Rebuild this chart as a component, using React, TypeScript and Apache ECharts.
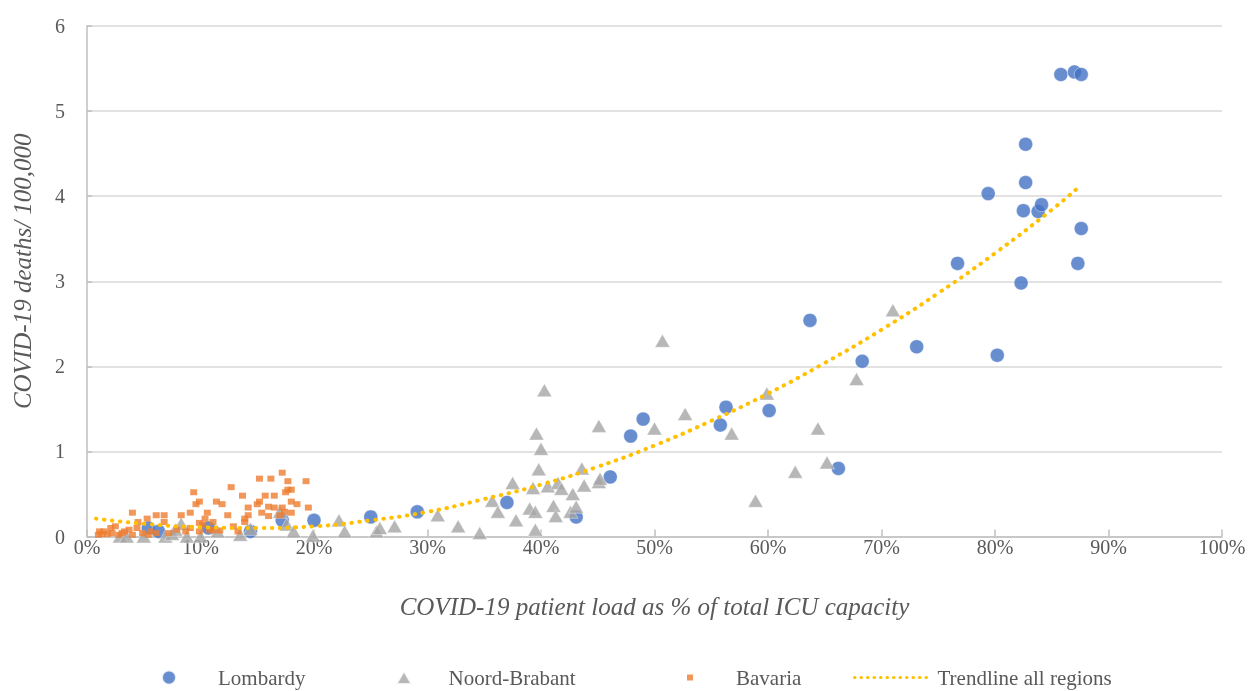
import React, { useEffect, useRef } from "react";
import * as echarts from "echarts";

// x: % of total ICU capacity, y: deaths per 100,000
const lombardy: number[][] = [
  [5.4, 0.1], [6.3, 0.06], [10.7, 0.1], [14.4, 0.06], [17.2, 0.19], [20.0, 0.19],
  [25.0, 0.23], [29.1, 0.29], [37.0, 0.4], [43.1, 0.23], [46.1, 0.7], [47.9, 1.18],
  [49.0, 1.38], [55.8, 1.31], [56.3, 1.52], [60.1, 1.48], [63.7, 2.54], [66.2, 0.8],
  [68.3, 2.06], [73.1, 2.23], [76.7, 3.21], [79.4, 4.03], [80.2, 2.13], [82.3, 2.98],
  [82.5, 3.83], [82.7, 4.16], [82.7, 4.61], [83.8, 3.82], [84.1, 3.9], [85.8, 5.43],
  [87.0, 5.46], [87.3, 3.21], [87.6, 3.62], [87.6, 5.43],
];

const noordBrabant: number[][] = [
  [2.9, 0], [3.5, 0], [5.0, 0], [6.9, 0], [7.5, 0.03], [7.8, 0.08], [8.3, 0.15],
  [8.8, 0], [10.0, 0], [11.5, 0.06], [13.5, 0.02], [14.4, 0.09], [17.0, 0.29],
  [17.6, 0.14], [18.2, 0.06], [19.9, 0.01], [22.2, 0.19], [22.7, 0.06], [25.5, 0.06],
  [25.8, 0.1], [27.1, 0.12], [30.9, 0.25], [32.7, 0.12], [34.6, 0.04], [35.7, 0.42],
  [36.2, 0.29], [37.5, 0.63], [37.8, 0.19], [39.0, 0.33], [39.3, 0.57], [39.5, 0.29],
  [39.5, 0.08], [39.6, 1.21], [39.8, 0.79], [40.0, 1.03], [40.3, 1.72], [40.6, 0.59],
  [41.1, 0.36], [41.3, 0.24], [41.5, 0.63], [41.8, 0.56], [42.6, 0.29], [42.8, 0.5],
  [43.1, 0.35], [43.6, 0.8], [43.8, 0.6], [45.1, 0.64], [45.2, 0.68], [45.1, 1.3],
  [50.0, 1.27], [50.7, 2.3], [52.7, 1.44], [56.8, 1.21], [58.9, 0.42], [59.9, 1.68],
  [62.4, 0.76], [64.4, 1.27], [65.2, 0.87], [67.8, 1.85], [71.0, 2.66],
];

const bavaria: number[][] = [
  [17.2, 0.75], [15.2, 0.68], [16.2, 0.68], [17.7, 0.65], [19.3, 0.65], [12.7, 0.58],
  [9.4, 0.52], [17.7, 0.55], [18.0, 0.55], [13.7, 0.48], [15.7, 0.48], [16.5, 0.48],
  [17.5, 0.52], [9.9, 0.41], [11.4, 0.41], [9.6, 0.38], [11.9, 0.38], [15.0, 0.38],
  [15.2, 0.41], [18.0, 0.41], [18.5, 0.38], [14.2, 0.34], [16.0, 0.35], [16.5, 0.34],
  [17.2, 0.34], [19.5, 0.34], [4.0, 0.28], [10.6, 0.28], [15.4, 0.28], [16.0, 0.24],
  [18.0, 0.28], [6.1, 0.25], [6.8, 0.25], [8.3, 0.25], [9.1, 0.28], [12.4, 0.25],
  [14.2, 0.25], [10.4, 0.21], [4.5, 0.17], [5.3, 0.21], [6.8, 0.17], [11.1, 0.17],
  [13.9, 0.21], [13.9, 0.17], [17.4, 0.29], [17.0, 0.25],
  [1.1, 0.06], [1.5, 0.06], [2.1, 0.1], [2.5, 0.12], [3.3, 0.06], [3.7, 0.08],
  [4.4, 0.1], [5.6, 0.06], [6.1, 0.04], [8.7, 0.06], [9.1, 0.1], [10.2, 0.14],
  [9.9, 0.16], [9.9, 0.06], [10.8, 0.08], [11.1, 0.07], [11.7, 0.07], [1.0, 0.02],
  [1.3, 0.03], [1.8, 0.03], [2.2, 0.04], [2.8, 0.02], [3.1, 0.04], [4.0, 0.02],
  [4.9, 0.04], [5.4, 0.02], [7.2, 0.04], [7.9, 0.08], [12.9, 0.12], [13.3, 0.06],
];

const trendline: number[][] = [
  [0.8, 0.21], [5, 0.15], [10, 0.11], [15, 0.1], [20, 0.12], [25, 0.19], [30, 0.29],
  [35, 0.44], [40, 0.61], [45, 0.82], [50, 1.07], [55, 1.36], [60, 1.68], [65, 2.04],
  [70, 2.43], [75, 2.86], [80, 3.33], [85, 3.84], [87.5, 4.12],
];

const seriesNames = ["Lombardy", "Noord-Brabant", "Bavaria", "Trendline all regions"];
const xAxisTitle = "COVID-19 patient load as % of total ICU capacity";
const yAxisTitle = "COVID-19 deaths/ 100,000";

const FONT = "'Liberation Serif', 'DejaVu Serif', serif";
const TEXT = "#595959";

export default function App() {
  const ref = useRef<HTMLDivElement>(null);
  useEffect(() => {
    const chart = echarts.init(ref.current!, null, { renderer: "svg" });
    const lt = (padLeft: number) => ({
      color: TEXT,
      fontSize: 21,
      fontFamily: FONT,
      padding: [0, 0, 0, padLeft],
    });
    const LEG_TOP = 667;
    chart.setOption({
      animation: false,
      textStyle: { fontFamily: FONT },
      grid: { left: 87, right: 33, top: 26, bottom: 154.5, containLabel: false },
      legend: [
        {
          data: [{ name: seriesNames[0], icon: "circle" }],
          left: 161, top: LEG_TOP, padding: 0, itemWidth: 14, itemHeight: 14,
          textStyle: lt(37), selectedMode: false,
        },
        {
          data: [{ name: seriesNames[1], icon: "triangle" }],
          left: 395.5, top: LEG_TOP, padding: 0, itemWidth: 15, itemHeight: 13,
          textStyle: lt(32), selectedMode: false,
        },
        {
          data: [{ name: seriesNames[2], icon: "rect" }],
          left: 687, top: LEG_TOP, padding: 0, itemWidth: 6, itemHeight: 6,
          textStyle: lt(38), selectedMode: false,
        },
        {
          data: [seriesNames[3]],
          left: 853, top: LEG_TOP, padding: 0, itemWidth: 78, itemHeight: 14,
          textStyle: lt(0), selectedMode: false,
          itemStyle: { opacity: 0 },
          lineStyle: { width: 3, type: [0.5, 6], cap: "round", color: "#FFC000" },
        },
      ],
      xAxis: {
        type: "value",
        min: 0,
        max: 100,
        interval: 10,
        name: xAxisTitle,
        nameLocation: "middle",
        nameGap: 57,
        nameTextStyle: { fontStyle: "italic", fontSize: 25, color: TEXT, fontFamily: FONT },
        axisLabel: { formatter: "{value}%", fontSize: 20, color: TEXT, margin: 0 },
        axisLine: { show: true, lineStyle: { color: "#BFBFBF", width: 1.5 } },
        axisTick: { show: true, inside: true, length: 7, lineStyle: { color: "#BFBFBF", width: 1.5 } },
        splitLine: { show: false },
      },
      yAxis: {
        type: "value",
        min: 0,
        max: 6,
        interval: 1,
        name: yAxisTitle,
        nameLocation: "middle",
        nameGap: 52,
        nameTextStyle: {
          fontStyle: "italic", fontSize: 25, color: TEXT, fontFamily: FONT,
          padding: [0, 0, 0, 20],
        },
        axisLabel: { fontSize: 20, color: TEXT, margin: 22 },
        axisLine: { show: true, lineStyle: { color: "#BFBFBF", width: 1.5 } },
        axisTick: { show: true, inside: true, length: 5, lineStyle: { color: "#BFBFBF", width: 1.5 } },
        splitLine: { show: true, lineStyle: { color: "#D9D9D9", width: 1.5 } },
      },
      series: [
        {
          name: seriesNames[0],
          type: "scatter",
          data: lombardy,
          symbol: "circle",
          symbolSize: 14,
          itemStyle: { color: "#4472C4", borderColor: "#ffffff", borderWidth: 0.5 },
          z: 2,
        },
        {
          name: seriesNames[1],
          type: "scatter",
          data: noordBrabant,
          symbol: "triangle",
          symbolSize: [15, 13],
          itemStyle: { color: "#A5A5A5", borderColor: "#ffffff", borderWidth: 0.5 },
          z: 3,
        },
        {
          name: seriesNames[2],
          type: "scatter",
          data: bavaria,
          symbol: "rect",
          symbolSize: [7, 6],
          itemStyle: { color: "#ED7D31" },
          z: 4,
        },
        {
          name: seriesNames[3],
          type: "line",
          data: trendline,
          smooth: true,
          symbol: "none",
          showSymbol: false,
          lineStyle: { color: "#FFC000", width: 4, type: [0.5, 7.5], cap: "round" },
          itemStyle: { color: "#FFC000" },
          z: 5,
        },
      ],
    });
    return () => chart.dispose();
  }, []);
  return <div ref={ref} style={{ position: "fixed", left: 0, top: 0, width: 1255, height: 691 }} />;
}
